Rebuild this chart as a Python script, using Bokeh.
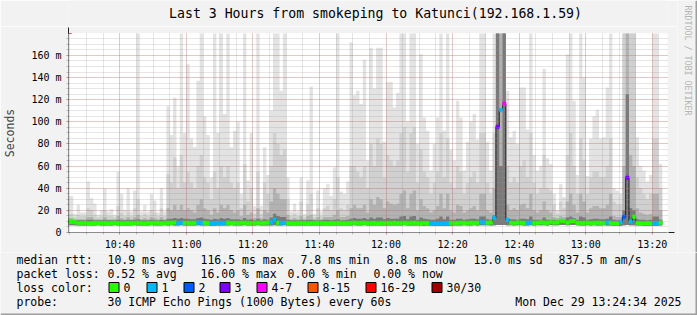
import math
from bokeh.plotting import figure
from bokeh.layouts import column, row
from bokeh.models import Range1d, FixedTicker, Arrow, NormalHead
from bokeh.core.properties import value
from bokeh.embed import file_html
from bokeh.resources import INLINE

# ---------------- data ----------------
title_text = "Last 3 Hours from smokeping to Katunci(192.168.1.59)"
window_start = "10:24:34"
window_end = "13:24:34"
first_slot = "10:24"          # one column per minute from here
x_tick_labels = ["10:40", "11:00", "11:20", "11:40", "12:00", "12:20", "12:40", "13:00", "13:20"]
y_tick_values = [0, 20, 40, 60, 80, 100, 120, 140, 160]
y_tick_labels = ["0", "20 m", "40 m", "60 m", "80 m", "100 m", "120 m", "140 m", "160 m"]

# smoke envelope per minute (ms); 200 = beyond the top of the graph
smoke_max = [33,
    33,17,25,18,18,46,31,26,16,20, 40,19,21,16,55,35,20,40,19,38, 200,19,25,19,35,29,18,40,19,114,
    88,122,60,200,90,152,85,77,137,200, 105,88,50,200,90,
    200,107,200,77,92,100,35,200,47,90, 24,200,24,77,52,110,200,200,128,200, 50,19,26,19,50,17,47,132,17,38,
    19,40,44,33,59,200,37,35,46,172, 124,128,116,156,65,
    167,130,167,167,82,136,136,113,126,200, 200,100,200,200,80,161,104,92,56,80, 104,200,92,200,75,65,119,104,56,82,
    100,107,84,200,200,82,56,200,200,200, 200,128,86,92,80,
    131,131,93,200,70,56,60,148,67,62, 35,20,44,32,161,200,119,52,200,140, 51,85,105,111,85,86,131,200,40,38,
    35,200,200,200,200,86,60,56,46,52, 200,200,62]
smoke_hi = [17,
    17,14,16,15,15,22,20,16,14,15, 20,15,15,14,24,18,15,19,15,22, 30,15,17,15,20,18,15,22,15,53,
    45,68,40,70,45,55,45,40,60,70, 50,45,30,55,40,
    60,50,60,45,40,45,22,62,28,40, 17,55,17,45,35,60,90,80,70,75, 30,15,17,15,28,14,25,35,14,22,
    15,22,24,20,30,50,22,20,25,60, 60,55,50,60,40,
    80,60,85,80,50,70,65,60,65,90, 95,55,90,95,45,75,55,50,35,45, 55,90,50,85,45,40,60,55,35,45,
    50,55,45,90,90,45,35,90,200,200, 200,60,45,50,45,
    60,65,50,90,45,35,40,70,40,38, 25,17,28,22,70,90,60,35,85,65, 35,50,55,55,50,50,60,85,28,25,
    25,200,200,200,200,50,40,35,30,35, 85,85,40]
smoke_mid = [13,
    13,12,12,12,12,14,14,12,12,12, 14,12,12,12,15,13,12,14,12,14, 16,12,13,12,14,13,12,14,12,22,
    20,25,20,25,20,22,20,18,25,30, 22,20,16,22,18,
    25,22,25,20,18,20,15,25,16,18, 13,22,13,20,18,28,40,35,30,30, 16,12,13,12,15,12,15,16,12,14,
    12,14,14,14,16,20,14,14,15,22, 25,22,22,25,18,
    30,25,32,30,22,28,26,25,26,35, 38,22,35,38,20,30,24,22,18,20, 24,35,22,35,20,18,25,24,18,20,
    22,24,20,35,35,20,18,40,200,200, 200,25,20,22,20,
    25,26,22,35,20,18,20,28,20,18, 14,13,15,14,28,35,25,18,35,28, 18,22,24,24,22,22,25,35,15,14,
    14,60,200,70,60,22,18,17,16,17, 35,35,20]
smoke_dk = [11.5,
    11.5,11,11,11,11,11.5,11.5,11,11,11, 11.5,11,11,11,11.5,11,11,11.5,11,11.5, 12,11,11,11,11.5,11,11,11.5,11,12.5,
    12.5,13,12.5,13,12.5,12.5,12,12,13,13.5, 12.5,12,11.5,12.5,12,
    13,12.5,13,12,12,12,11.5,13,11.5,12, 11,12.5,11,12,11.5,13.5,17,15,14,14, 11.5,11,11,11,11.5,11,11.5,11.5,11,11,
    11,11.5,11.5,11,11.5,12,11,11,11.5,12.5, 13,12.5,12.5,13,12,
    13.5,12.5,13.5,13.5,12,13,12.5,12.5,12.5,14.5, 15,12,14.5,15,11.5,13.5,12.5,12,11.5,11.5, 12.5,14.5,12,14.5,11.5,11.5,12.5,12.5,11.5,12,
    12.5,12.5,12,14.5,14.5,12,11.5,15.5,200,60, 200,12.5,12,12,11.5,
    12.5,12.5,12,14.5,11.5,11.5,11.5,13.5,11.5,11.5, 11.5,11,11.5,11.5,13.5,14.5,13,11.5,14.5,13.5, 11.5,12,12.5,12.5,12,12,12.5,14.5,11.5,11,
    11,20,125,22,20,12,11.5,11.5,11,11.5, 14.5,14.5,11.5]
smoke_lo = [6.6,
    6.6,6.5,6.4,6.4,6.3,6.4,6.3,6.4,6.5,6.4, 6.4,6.3,6.4,6.5,6.4,6.3,6.4,6.4,6.3,6.5, 6.4,6.3,6.4,6.4,6.5,6.4,6.3,6.4,6.5,6.4,
    6.5,6.4,6.4,6.5,6.4,6.4,6.3,6.4,6.5,6.4, 6.4,6.3,6.2,6.2,6.3,
    6.3,6.4,6.4,6.5,6.4,6.3,6.4,6.5,6.4,6.3, 6.4,6.5,6.4,6.3,6.4,6.4,6.6,6.4,6.4,6.5, 6.4,6.3,6.4,6.3,6.4,6.3,6.4,6.3,6.4,6.3,
    6.4,6.4,6.3,6.4,6.3,6.4,6.4,6.3,6.4,6.4, 6.5,6.4,6.4,6.5,6.4,
    6.4,6.3,6.4,6.4,6.3,6.4,6.4,6.3,6.4,6.4, 6.5,6.4,6.4,6.3,6.4,6.3,6.2,6.3,6.2,5.9, 5.9,5.8,5.8,5.9,6.0,6.4,6.4,6.3,6.5,6.4,
    6.4,6.5,6.4,6.5,6.6,6.5,6.4,6.6,6.8,6.8, 6.8,6.6,6.5,6.4,6.5,
    6.5,6.4,6.4,6.5,6.4,6.5,6.6,6.5,6.4,6.8, 6.6,6.6,6.8,6.7,6.6,6.7,6.7,6.5,6.4,6.4, 6.5,6.4,6.5,6.4,6.4,6.5,6.4,6.3,6.2,6.2,
    6.2,6.6,6.8,6.6,6.6,6.4,6.3,6.2,6.2,6.2, 6.1,6.2,6.4]
median = [9.5,9.6,9.4,8.6,8.5,8.9,8.3,8.4,8.7,8.6,
    8.5,8.8,8.4,8.6,8.9,8.5,8.3,8.6,8.7,8.4,
    8.6,8.9,8.5,8.4,8.7,8.6,8.5,8.8,8.4,8.6,
    8.9,8.7,9.0,8.6,8.8,8.7,8.9,8.6,8.8,9.1,
    8.7,8.9,8.6,8.4,8.3,8.8,8.3,8.5,8.9,8.6,
    8.7,8.5,8.8,8.9,8.6,8.5,8.7,8.9,8.6,8.8,
    9.0,9.2,11.5,8.9,8.7,8.8,8.6,8.5,8.4,8.6,
    8.7,8.5,8.4,8.6,8.5,8.7,8.6,8.5,8.4,8.6,
    8.5,8.7,8.6,8.4,8.5,8.7,8.9,8.6,8.7,8.8,
    8.6,8.5,8.7,8.4,8.6,8.5,8.7,8.6,8.8,8.5,
    8.6,8.7,8.5,8.6,8.8,8.5,8.4,8.6,8.5,8.0,
    8.0,7.9,7.8,8.0,8.1,8.7,8.6,8.5,8.8,8.7,
    8.6,8.9,8.7,8.8,9.2,9.0,8.8,9.1,13.0,95.5,
    110.7,116.5,11.5,8.8,8.6,9.0,8.9,8.7,8.8,8.9,
    8.7,8.8,9.2,8.9,8.7,9.4,9.0,9.1,10.6,10.4,
    8.9,10.2,10.4,8.8,8.5,8.7,8.8,8.6,8.7,8.9,
    8.7,8.5,9.0,8.6,8.4,8.3,9.3,14.2,49.5,9.7,
    14.3,8.6,8.4,8.3,8.4,8.3,8.2,8.4,8.8]
# lost pings (of 30) per minute
loss = [0,0,0,0,0,0,0,0,0,0, 0,0,0,0,0,0,0,0,0,0, 0,0,0,0,0,0,0,0,0,0,
    0,0,0,1,1,0,0,0,0,1, 1,0,0,1,1,1,1,1,0,0, 0,0,0,0,0,0,0,0,0,0,
    0,1,1,0,1,1,0,0,0,0, 0,0,0,0,0,0,0,0,0,0, 0,0,0,0,0,0,0,0,0,0,
    0,0,0,0,0,0,0,0,0,0, 0,0,0,0,0,0,0,0,0,1, 1,1,1,1,1,0,0,0,0,0,
    0,0,0,0,1,1,0,0,1,3, 1,5,1,0,0,0,0,0,1,1, 0,0,0,0,0,0,0,0,0,0,
    0,0,0,0,0,0,0,0,0,0, 0,0,1,0,0,0,1,2,3,1, 0,0,0,0,0,0,1,1,0]
loss_labels = ["0", "1", "2", "3", "4-7", "8-15", "16-29", "30/30"]
loss_colors = ["#26ff00", "#00b8ff", "#0059ff", "#7e00ff", "#ff00ff", "#ff5500", "#ff0000", "#a10000"]
stats_rtt = ["10.9 ms avg", "116.5 ms max", "7.8 ms min", "8.8 ms now", "13.0 ms sd", "837.5 m am/s"]
stats_loss = ["0.52 % avg", "16.00 % max", "0.00 % min", "0.00 % now"]
probe_text = "30 ICMP Echo Pings (1000 Bytes) every 60s"
stamp_text = "Mon Dec 29 13:24:34 2025"
watermark = "RRDTOOL / TOBI OETIKER"

# ---------------- helpers ----------------
def minutes(s):
    parts = [int(v) for v in s.split(":")]
    while len(parts) < 3:
        parts.append(0)
    return parts[0] * 60 + parts[1] + parts[2] / 60.0

def loss_class(n):
    if n <= 3:
        return n
    if n <= 7:
        return 4
    if n <= 15:
        return 5
    if n <= 29:
        return 6
    return 7

W, H = 697, 315
TITLE_H = 26           # title strip
TOP_H = 252            # title strip + graph
SIDE_W = 20            # right strip with the watermark
FL, FR, FT, FB = 67, 667, 33, 233
T0, T1 = minutes(window_start), minutes(window_end)
YMAX = 179.8
BG = "#f2f2f2"
MONO = "DejaVu Sans Mono"

def X(px):
    return T0 + (px - FL) / (FR - FL) * (T1 - T0)

def Y(py):
    return (FB - py) / (FB - FT) * YMAX

slot0 = minutes(first_slot)
N = len(smoke_max)
lefts = [slot0 + i for i in range(N)]
xs = lefts + [lefts[-1] + 1]

def ext(a):
    return list(a) + [a[-1]]

def plain(w, h, x0, x1, y0, y1):
    f = figure(width=w, height=h, x_range=Range1d(x0, x1), y_range=Range1d(y0, y1),
               output_backend="svg", toolbar_location=None, x_axis_type=None, y_axis_type=None,
               min_border=0, background_fill_color=BG, border_fill_color=BG, outline_line_color=None)
    f.xgrid.visible = False
    f.ygrid.visible = False
    return f

# ---------------- title strip ----------------
GW = W - SIDE_W
tfig = plain(GW, TITLE_H, 0, GW, 0, TITLE_H)
tfig.text(x=[347], y=[TITLE_H - 13], text=[title_text], text_font=value(MONO),
          text_font_size="13.2px", text_color="black", text_align="center", text_baseline="middle")

# ---------------- graph ----------------
PH = TOP_H - TITLE_H
p = figure(width=GW, height=PH, x_range=Range1d(T0, T1), y_range=Range1d(0, YMAX),
           output_backend="svg", toolbar_location=None,
           min_border_left=FL, min_border_right=GW - FR, min_border_top=FT - TITLE_H,
           min_border_bottom=TOP_H - FB,
           background_fill_color="white", border_fill_color=BG, outline_line_color=None)

for arr, col in [(smoke_max, "#e3e3e3"), (smoke_hi, "#d0d0d0"), (smoke_mid, "#b2b2b2"), (smoke_dk, "#7a7a7a")]:
    p.varea_step(x=xs, y1=ext(smoke_lo), y2=ext(arr), step_mode="after", fill_color=col)

p.step(x=xs, y=ext(median), mode="after", line_color="#1a1a1a", line_width=1)
band = 1.6
cols = [loss_colors[loss_class(v)] for v in loss]
p.quad(left=lefts, right=[l + 1 for l in lefts], bottom=[m - band for m in median],
       top=[m + band for m in median], fill_color=cols, line_color=cols, line_width=0.5)

xt = [minutes(s) for s in x_tick_labels]
p.xaxis.ticker = FixedTicker(ticks=xt, minor_ticks=list(range(625, 805, 5)))
p.xaxis.major_label_overrides = {int(t): s for t, s in zip(xt, x_tick_labels)}
p.yaxis.ticker = FixedTicker(ticks=y_tick_values, minor_ticks=list(range(0, 180, 5)))
p.yaxis.major_label_overrides = dict(zip(y_tick_values, y_tick_labels))
for ax in (p.xaxis[0], p.yaxis[0]):
    ax.axis_line_color = None
    ax.major_label_text_font = MONO
    ax.major_label_text_font_size = "10px"
    ax.major_label_text_color = "black"
    ax.major_tick_in = 0
    ax.minor_tick_in = 0
    ax.major_tick_out = 2
    ax.minor_tick_out = 2
    ax.major_tick_line_color = "#de4f4f"
    ax.major_tick_line_alpha = 0.5
    ax.minor_tick_line_color = "#8f8f8f"
    ax.minor_tick_line_alpha = 0.5
p.xaxis.major_label_standoff = 4
p.yaxis.major_label_standoff = 5
p.yaxis.axis_label = "Seconds"
p.yaxis.axis_label_text_font = MONO
p.yaxis.axis_label_text_font_size = "11.5px"
p.yaxis.axis_label_text_font_style = "normal"
p.yaxis.axis_label_standoff = 11

for g in (p.xgrid[0], p.ygrid[0]):
    g.level = "guide"
    g.grid_line_color = "#de4f4f"
    g.grid_line_alpha = 0.4
    g.grid_line_dash = "1 1"
    g.minor_grid_line_color = "#8f8f8f"
    g.minor_grid_line_alpha = 0.45
    g.minor_grid_line_dash = "1 1"
p.xgrid.ticker = p.xaxis.ticker
p.ygrid.ticker = p.yaxis.ticker

p.add_layout(Arrow(end=NormalHead(size=6, fill_color="#801f1f", line_color="#801f1f"),
                   x_start=X(67), y_start=Y(237), x_end=X(67), y_end=Y(27),
                   line_color="#1f1f1f", line_width=1))
p.add_layout(Arrow(end=NormalHead(size=6, fill_color="#801f1f", line_color="#801f1f"),
                   x_start=X(63), y_start=0, x_end=X(674), y_end=0,
                   line_color="#1f1f1f", line_width=1))

# ---------------- right strip (watermark) ----------------
side = plain(SIDE_W, TOP_H, GW, W, 0, TOP_H)
side.text(x=[687], y=[TOP_H - 60], text=[watermark], angle=-math.pi / 2,
          text_font=value(MONO), text_font_size="8.3px", text_color="#b4b4b4",
          text_align="center", text_baseline="middle")
side.quad(left=[W - 2], right=[W], bottom=[0], top=[TOP_H], fill_color="#9e9e9e", line_color=None)

# ---------------- legend strip ----------------
LH = H - TOP_H
leg = plain(W, LH, 0, W, 0, LH)

def ly(py):
    return H - py

t_x, t_y, t_s, t_a = [], [], [], []
def txt(s, px, py, align="left"):
    t_x.append(px); t_y.append(ly(py)); t_s.append(s); t_a.append(align)

txt("median rtt:", 16, 259)
for s, px in zip(stats_rtt, [107, 200, 300, 386, 473, 558]):
    txt(s, px, 259)
txt("packet loss:", 16, 273)
for s, px in zip(stats_loss, [107, 200, 287, 373]):
    txt(s, px, 273)
txt("loss color:", 16, 287)
box_x = [108, 146, 183, 219, 256, 307, 365, 431]
for s, bx in zip(loss_labels, box_x):
    txt(s, bx + 15, 287)
txt("probe:", 16, 301)
txt(probe_text, 107, 301)
txt(stamp_text, 681, 301, "right")

leg.text(x=t_x, y=t_y, text=t_s, text_align=t_a, text_font=value(MONO), text_font_size="11.5px",
         text_color="black", text_baseline="middle")
leg.quad(left=[b + 0.5 for b in box_x], right=[b + 10.5 for b in box_x],
         bottom=[ly(292)] * len(box_x), top=[ly(282)] * len(box_x),
         fill_color=loss_colors, line_color="black", line_width=1)
leg.quad(left=[0], right=[W], bottom=[ly(315)], top=[ly(313)], fill_color="#9e9e9e", line_color=None)
leg.quad(left=[W - 2], right=[W], bottom=[ly(315)], top=[ly(TOP_H)], fill_color="#9e9e9e", line_color=None)

layout = column(row(column(tfig, p), side), leg)
open("out.html", "w").write(file_html(layout, INLINE))
